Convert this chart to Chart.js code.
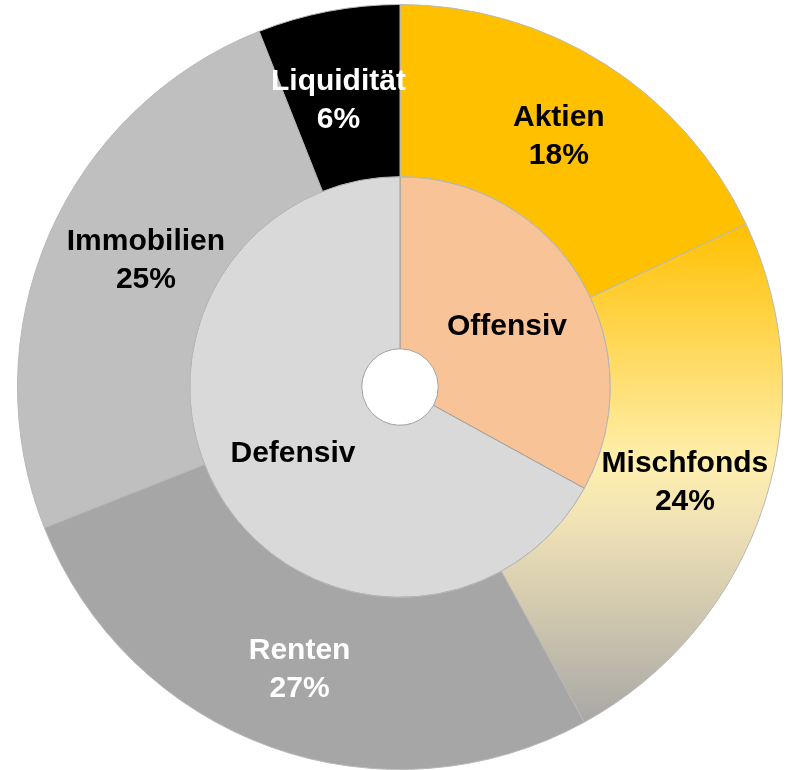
<!DOCTYPE html>
<html lang="de">

<head>
    <meta charset="UTF-8">
    <title>Vermögensaufteilung</title>
    <script src="https://cdn.jsdelivr.net/npm/chart.js"></script>
    <style>
        html, body { margin: 0; padding: 0; background: #ffffff; }
        .grafico { width: 790px; height: 770px; position: relative; }
    </style>
</head>

<body>
    <div class="grafico">
        <canvas id="ringe"></canvas>
    </div>
</body>

<script>

    // Außenring: Anlageklassen (im Uhrzeigersinn ab 12 Uhr)
    var klassen = ['Aktien', 'Mischfonds', 'Renten', 'Immobilien', 'Liquidität'];
    var anteile = [18, 24, 27, 25, 6];

    // Innenring: Ausrichtung
    var gruppen = ['Offensiv', 'Defensiv'];
    var gruppenAnteile = [33, 67];

    var farbenAussen = ['#FFC000', null, '#A6A6A6', '#BFBFBF', '#000000'];
    var farbenInnen = ['#F8C497', '#D9D9D9'];

    // Verlauf für Mischfonds (oben gelb, unten grau)
    function farbeAussen(context) {
        var i = context.dataIndex;
        if (farbenAussen[i]) return farbenAussen[i];
        var chart = context.chart;
        var area = chart.chartArea;
        if (!area) return '#FFE080';
        var cy = (area.top + area.bottom) / 2;
        var r = Math.min(area.right - area.left, area.bottom - area.top) / 2;
        var g = chart.ctx.createLinearGradient(0, cy - 0.43 * r, 0, cy + 0.88 * r);
        g.addColorStop(0, '#FFC000');
        g.addColorStop(0.48, '#FFEFAE');
        g.addColorStop(0.6, '#F0E2B6');
        g.addColorStop(1, '#A8A7A5');
        return g;
    }

    var beschriftung = {
        id: 'beschriftung',
        afterDatasetsDraw: function (chart, args, opts) {
            var ctx = chart.ctx;
            ctx.save();
            ctx.font = opts.font;
            ctx.textAlign = 'center';
            ctx.textBaseline = 'middle';
            chart.data.datasets.forEach(function (ds, di) {
                var meta = chart.getDatasetMeta(di);
                meta.data.forEach(function (arc, i) {
                    var p = arc.getProps(['x', 'y', 'startAngle', 'endAngle', 'innerRadius', 'outerRadius'], true);
                    var a = (p.startAngle + p.endAngle) / 2;
                    var r = (p.innerRadius + p.outerRadius) / 2;
                    var schub = opts.schub[di][i];
                    var x = p.x + Math.cos(a) * r + schub[0];
                    var y = p.y + Math.sin(a) * r + schub[1];
                    ctx.fillStyle = opts.farben[di][i];
                    var zeilen = di === 0 ? [ds.labels[i], ds.data[i] + '%'] : [ds.labels[i]];
                    var start = y - (zeilen.length - 1) * opts.zeilenHoehe / 2;
                    zeilen.forEach(function (t, k) {
                        ctx.fillText(t, x, start + k * opts.zeilenHoehe);
                    });
                });
            });
            ctx.restore();
        }
    };

    var ctx = document.getElementById('ringe').getContext('2d');
    var myChart = new Chart(ctx, {
        type: 'doughnut',
        data: {
            datasets: [{
                labels: klassen,
                data: anteile,
                backgroundColor: farbeAussen,
                borderColor: '#B8B8B8',
                borderWidth: 1
            }, {
                labels: gruppen,
                data: gruppenAnteile,
                backgroundColor: farbenInnen,
                borderColor: '#A0A0A0',
                borderWidth: 1
            }]
        },
        options: {
            responsive: true,
            maintainAspectRatio: false,
            animation: false,
            cutout: '10%',
            layout: {
                padding: { left: 17, right: 7, top: 4, bottom: 0 }
            },
            plugins: {
                legend: { display: false },
                tooltip: { enabled: false },
                beschriftung: {
                    font: 'bold 30px "Liberation Sans", Arial, sans-serif',
                    zeilenHoehe: 38,
                    farben: [
                        ['#000000', '#000000', '#FFFFFF', '#000000', '#FFFFFF'],
                        ['#000000', '#000000']
                    ],
                    schub: [
                        [[0, 0], [3, 4], [0, 4], [18, -9], [-6, 5]],
                        [[0, 3], [0, 3]]
                    ]
                }
            }
        },
        plugins: [beschriftung]
    });

</script>

</html>
